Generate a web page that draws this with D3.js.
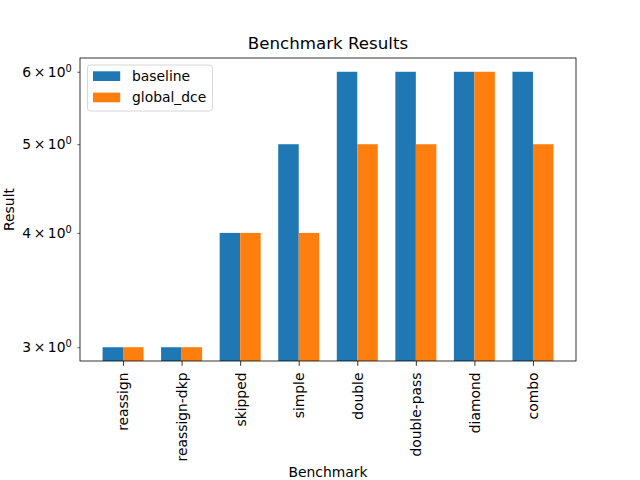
<!DOCTYPE html>
<html>
<head>
<meta charset="utf-8">
<script src="https://cdn.jsdelivr.net/npm/d3@7"></script>
<style>
  body { margin: 0; background: #fff; }
  text { font-family: "DejaVu Sans", sans-serif; fill: #000; }
</style>
</head>
<body>
<div id="chart"></div>
<script>
var benchmarks = ["reassign", "reassign-dkp", "skipped", "simple", "double", "double-pass", "diamond", "combo"];
var baseline = [3, 3, 4, 5, 6, 6, 6, 6];
var globalDce = [3, 3, 4, 4, 5, 5, 6, 5];
var seriesNames = ["baseline", "global_dce"];
var yTicks = [3, 4, 5, 6];

var width = 640, height = 480;
var margin = { top: 58, right: 64, bottom: 119, left: 80 };
var colors = ["#1f77b4", "#ff7f0e"];
var barW = 0.35;
var fs = 13.89; // 10pt at 100 dpi

var svg = d3.select("#chart").append("svg")
  .attr("width", width).attr("height", height);

// x in category units, matplotlib-style 5% margins
var lo = -barW, hi = benchmarks.length - 1 + barW;
var pad = (hi - lo) * 0.05;
var x = d3.scaleLinear().domain([lo - pad, hi + pad])
  .range([margin.left, width - margin.right]);

// log y with 5% margins in log space
var ymin = d3.min(baseline.concat(globalDce)), ymax = d3.max(baseline.concat(globalDce));
var lr = Math.log10(ymax / ymin) * 0.05;
var y = d3.scaleLog().domain([ymin / Math.pow(10, lr), ymax * Math.pow(10, lr)])
  .range([height - margin.bottom, margin.top]);

var series = [baseline, globalDce];
series.forEach(function (vals, s) {
  svg.append("g").selectAll("rect")
    .data(vals)
    .enter()
    .append("rect")
    .attr("x", (d, i) => x(i - barW + s * barW))
    .attr("width", (d, i) => x(i + barW) - x(i))
    .attr("y", d => y(d))
    .attr("height", d => y.range()[0] - y(d))
    .attr("fill", colors[s]);
});

// x axis
var xAxis = svg.append("g")
  .attr("transform", `translate(0, ${height - margin.bottom})`)
  .call(d3.axisBottom(x).tickValues(d3.range(benchmarks.length)).tickSize(4.86).tickPadding(4.86)
    .tickFormat(i => benchmarks[i]));
xAxis.select(".domain").remove();
xAxis.selectAll(".tick line").attr("stroke", "#000").attr("stroke-width", 0.8);
xAxis.selectAll(".tick text")
  .attr("font-size", fs)
  .attr("font-family", "DejaVu Sans")
  .attr("text-anchor", "end")
  .attr("transform", "rotate(-90)")
  .attr("x", -11.5)
  .attr("y", 0)
  .attr("dy", "0.35em");

// y axis (minor ticks, mathtext-like labels)
var yAxis = svg.append("g")
  .attr("transform", `translate(${margin.left}, 0)`)
  .call(d3.axisLeft(y).tickValues(yTicks).tickSize(2.78).tickPadding(4.86).tickFormat(""));
yAxis.select(".domain").remove();
yAxis.selectAll(".tick line").attr("stroke", "#000").attr("stroke-width", 0.6);
yAxis.selectAll(".tick").each(function (d) {
  var t = d3.select(this).select("text")
    .attr("font-size", fs)
    .attr("font-family", "DejaVu Sans")
    .attr("x", -8.3)
    .attr("dy", "0.32em");
  t.append("tspan").text(d);
  t.append("tspan").attr("dx", 2.5).text("\u00d7");
  t.append("tspan").attr("dx", 2.5).text("10");
  t.append("tspan").attr("font-size", 9.8).attr("dy", "-0.5em").text("0");
});

// frame
svg.append("rect")
  .attr("x", margin.left).attr("y", margin.top)
  .attr("width", width - margin.left - margin.right)
  .attr("height", height - margin.top - margin.bottom)
  .attr("fill", "none").attr("stroke", "#000").attr("stroke-width", 0.8);

var cx = (margin.left + width - margin.right) / 2;
svg.append("text").attr("x", cx).attr("y", 49)
  .attr("text-anchor", "middle").attr("font-size", 16.67).text("Benchmark Results");
svg.append("text").attr("x", cx).attr("y", 477)
  .attr("text-anchor", "middle").attr("font-size", fs).text("Benchmark");
svg.append("text")
  .attr("transform", `translate(9, ${(margin.top + height - margin.bottom) / 2}) rotate(-90)`)
  .attr("text-anchor", "middle").attr("dy", "0.35em").attr("font-size", fs).text("Result");

// legend
var lg = svg.append("g").attr("transform", "translate(87.5, 65)");
lg.append("rect").attr("width", 125).attr("height", 46).attr("rx", 3)
  .attr("fill", "#fff").attr("fill-opacity", 0.8)
  .attr("stroke", "#ccc").attr("stroke-width", 0.8);
seriesNames.forEach(function (name, i) {
  lg.append("rect").attr("x", 5.5).attr("y", 6.3 + i * 21.3).attr("width", 27.2).attr("height", 9.7)
    .attr("fill", colors[i]);
  lg.append("text").attr("x", 44.5).attr("y", 11 + i * 21.3).attr("dy", "0.35em")
    .attr("font-size", fs).text(name);
});
</script>
</body>
</html>
